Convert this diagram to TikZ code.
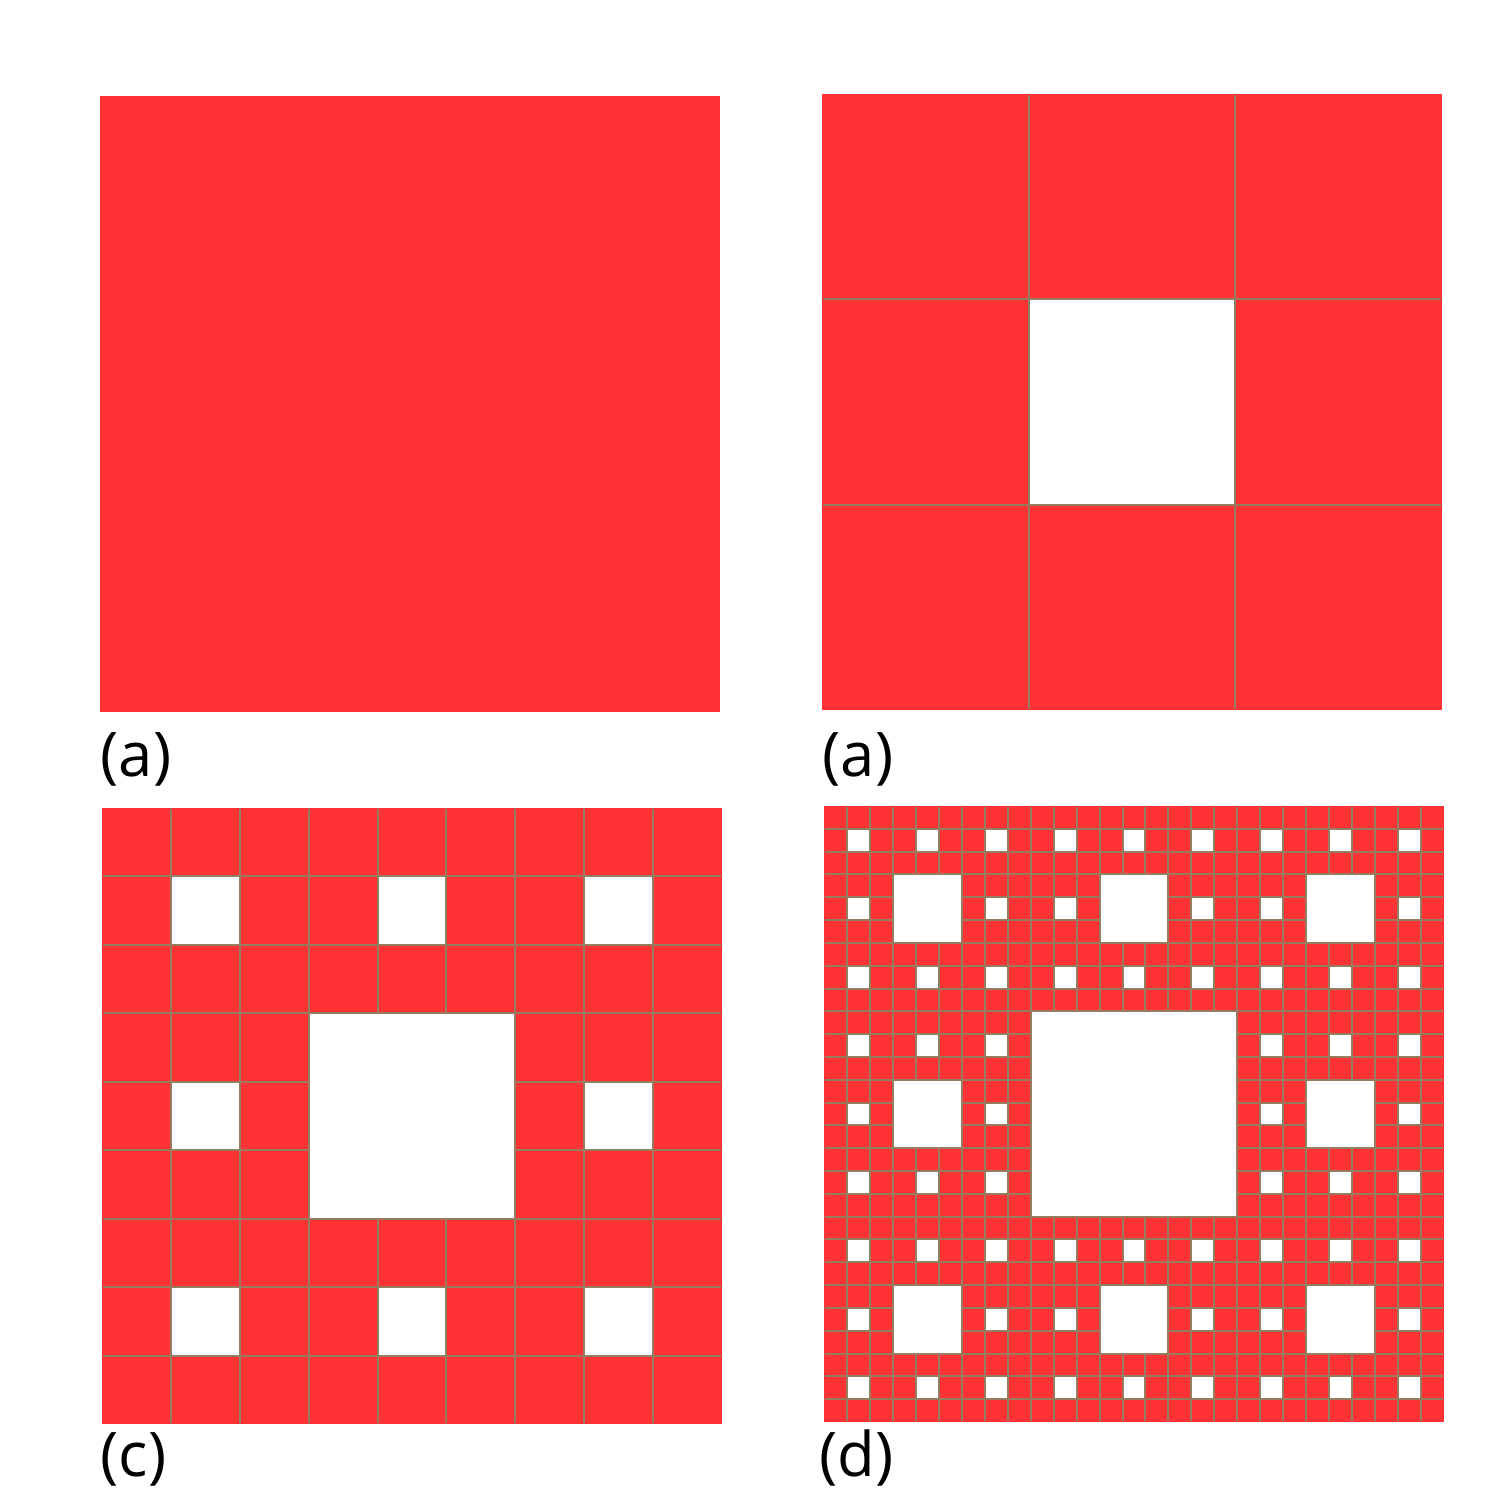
\documentclass[tikz,border=0pt]{standalone}
\usepackage{fontspec}
\setmainfont{Open Sans}
\definecolor{carpetred}{RGB}{255,51,54}
\definecolor{gridbrown}{RGB}{150,125,95}

% one carpet panel: lower-left x, lower-left y, cells per side
\newcommand{\carpetpanel}[3]{%
  \pgfmathsetmacro\cw{6.2/#3}
  \pgfmathsetmacro\ch{6.16/#3}
  \pgfmathtruncatemacro\last{#3-1}
  % --- fill pass ---
  \foreach \i in {0,...,\last}{
    \foreach \j in {0,...,\last}{
      \pgfmathtruncatemacro\hole{(mod(\i,3)==1 && mod(\j,3)==1) || (mod(floor(\i/3),3)==1 && mod(floor(\j/3),3)==1) || (mod(floor(\i/9),3)==1 && mod(floor(\j/9),3)==1)}
      \ifnum\hole=0
        \fill[cellfill] ({#1+\i*\cw},{#2+\j*\ch}) rectangle ++(\cw,\ch);
      \fi
    }
  }
  % --- outline pass (inner lines only) ---
  \begin{scope}
    \clip ({#1+0.012},{#2+0.012}) rectangle ({#1+6.188},{#2+6.148});
    \foreach \i in {0,...,\last}{
      \foreach \j in {0,...,\last}{
        \pgfmathtruncatemacro\hole{(mod(\i,3)==1 && mod(\j,3)==1) || (mod(floor(\i/3),3)==1 && mod(floor(\j/3),3)==1) || (mod(floor(\i/9),3)==1 && mod(floor(\j/9),3)==1)}
        \ifnum\hole=0
          \draw[cellline] ({#1+\i*\cw},{#2+\j*\ch}) rectangle ++(\cw,\ch);
        \fi
      }
    }
  \end{scope}
}

\begin{document}
\begin{tikzpicture}[
        cellfill/.style={fill=carpetred},
        cellline/.style={draw=gridbrown, line width=0.02cm},
        panellabel/.style={anchor=base west, inner sep=0pt, font=\fontsize{17.5}{20}\selectfont}
    ]
    \fill[white] (0,0) rectangle (15,15);
    \useasboundingbox (0,0) rectangle (15,15);

    % --- Panels ---
    \carpetpanel{1.00}{7.88}{1}
    \carpetpanel{8.22}{7.90}{3}
    \carpetpanel{1.02}{0.76}{9}
    \carpetpanel{8.24}{0.78}{27}

    % --- Labels ---
    \node[panellabel] (labela) at (1.00, 7.23) {(a)};
    \node[panellabel] (labelb) at (8.22, 7.23) {(a)};
    \node[panellabel] (labelc) at (1.00, 0.23) {(c)};
    \node[panellabel] (labeld) at (8.19, 0.23) {(d)};
\end{tikzpicture}
\end{document}
